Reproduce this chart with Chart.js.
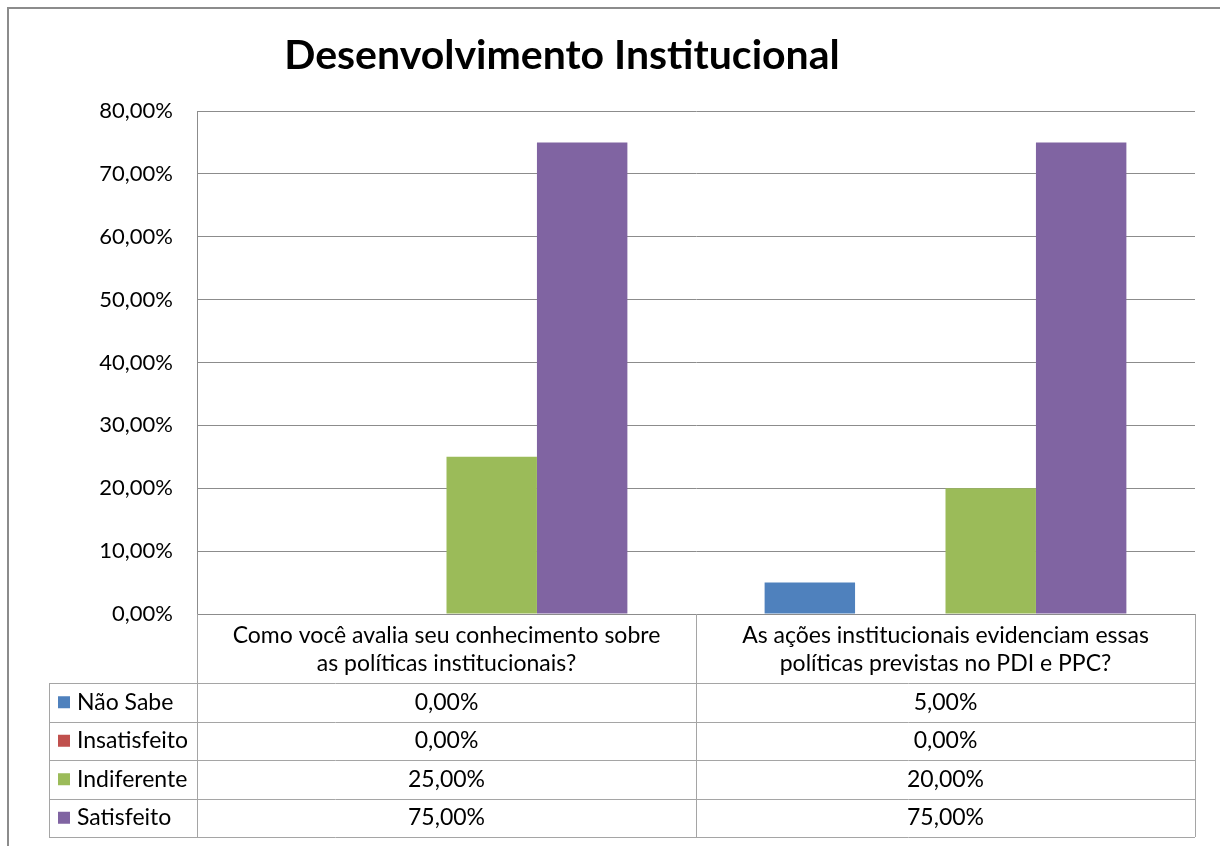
<!DOCTYPE html>
<html>
<head>
<meta charset="utf-8">
<script src="https://cdn.jsdelivr.net/npm/chart.js@4/dist/chart.umd.min.js"></script>
<style>
  html, body { margin: 0; padding: 0; background: #fff; }
  canvas { display: block; }
</style>
</head>
<body>
<canvas id="c" width="1220" height="846"></canvas>
<script>
// ── DATA ──────────────────────────────────────────────────────────────────────
const TITLE = 'Desenvolvimento Institucional';
const categories = [
  ['Como você avalia seu conhecimento sobre', 'as políticas institucionais?'],
  ['As ações institucionais evidenciam essas', 'políticas previstas no PDI e PPC?']
];
const seriesNames  = ['Não Sabe', 'Insatisfeito', 'Indiferente', 'Satisfeito'];
const seriesColors = ['#4F81BD', '#C0504D', '#9BBB59', '#8064A2'];
const naoSabe      = [0, 5];
const insatisfeito = [0, 0];
const indiferente  = [25, 20];
const satisfeito   = [75, 75];
const yMax = 80, yStep = 10;

const seriesValues = [naoSabe, insatisfeito, indiferente, satisfeito];
const FONT = 'Lato, "Open Sans", sans-serif';
const fmt = v => v.toFixed(2).replace('.', ',') + '%';

// ── PLUGINS: frame, title, data table ────────────────────────────────────────
const frame = {
  id: 'frame',
  beforeDraw(chart) {
    const ctx = chart.ctx;
    ctx.save();
    ctx.strokeStyle = '#8c8c8c';
    ctx.lineWidth = 2;
    ctx.beginPath();
    ctx.moveTo(8, 846); ctx.lineTo(8, 8); ctx.lineTo(1220, 8);
    ctx.stroke();
    ctx.restore();
  },
  afterDraw(chart) {
    const ctx = chart.ctx;
    ctx.save();
    ctx.fillStyle = '#000';
    ctx.font = 'bold 41px ' + FONT;
    ctx.textAlign = 'center';
    ctx.textBaseline = 'middle';
    ctx.fillText(TITLE, 562, 56);
    ctx.restore();
  }
};

const dataTable = {
  id: 'dataTable',
  afterDraw(chart) {
    const { ctx, chartArea: a, scales: { x } } = chart;
    const half = (a.right - a.left) / categories.length / 2;
    const headerH = 69, rowH = 38.5, keyLeft = 49;
    const top = a.bottom, rowsTop = top + headerH;
    const bottom = rowsTop + rowH * seriesNames.length;

    ctx.save();
    ctx.strokeStyle = '#a5a5a5';
    ctx.lineWidth = 1;
    ctx.beginPath();
    // vertical lines
    ctx.moveTo(a.left + 0.5, top); ctx.lineTo(a.left + 0.5, bottom);
    categories.forEach((_, i) => {
      const r = Math.round(x.getPixelForValue(i) + half) + 0.5;
      ctx.moveTo(r, top); ctx.lineTo(r, bottom);
    });
    ctx.moveTo(keyLeft + 0.5, rowsTop); ctx.lineTo(keyLeft + 0.5, bottom);
    // horizontal lines
    for (let r = 0; r <= seriesNames.length; r++) {
      const y = Math.round(rowsTop + r * rowH) + 0.5;
      ctx.moveTo(keyLeft, y); ctx.lineTo(a.right, y);
    }
    ctx.stroke();

    ctx.fillStyle = '#000';
    ctx.font = '23px ' + FONT;
    ctx.textBaseline = 'middle';
    ctx.textAlign = 'center';
    // category headers
    categories.forEach((lines, i) => {
      const cx = x.getPixelForValue(i);
      lines.forEach((t, j) => ctx.fillText(t, cx, top + 22 + j * 28));
    });
    // rows
    seriesNames.forEach((name, r) => {
      const cy = rowsTop + r * rowH + rowH / 2;
      ctx.fillStyle = seriesColors[r];
      ctx.fillRect(keyLeft + 9, cy - 6, 12, 12);
      ctx.fillStyle = '#000';
      ctx.textAlign = 'left';
      ctx.fillText(name, keyLeft + 28, cy);
      ctx.textAlign = 'center';
      seriesValues[r].forEach((v, i) => ctx.fillText(fmt(v), x.getPixelForValue(i), cy));
    });
    ctx.restore();
  }
};

// ── CHART ─────────────────────────────────────────────────────────────────────
new Chart(document.getElementById('c'), {
  type: 'bar',
  data: {
    labels: categories,
    datasets: seriesNames.map((n, i) => ({
      label: n,
      data: seriesValues[i],
      backgroundColor: seriesColors[i],
      borderWidth: 0,
      categoryPercentage: 0.725,
      barPercentage: 1
    }))
  },
  options: {
    responsive: false,
    animation: false,
    layout: { padding: { top: 111, right: 25, bottom: 232, left: 0 } },
    plugins: { legend: { display: false }, tooltip: { enabled: false } },
    scales: {
      x: { display: false },
      y: {
        min: 0, max: yMax,
        afterFit(s) { s.width = 197; },
        border: { display: true, color: '#8c8c8c' },
        grid: { color: '#8c8c8c', drawTicks: false },
        ticks: {
          stepSize: yStep, padding: 24, color: '#000',
          font: { family: FONT, size: 22 },
          callback: v => fmt(v)
        }
      }
    }
  },
  plugins: [frame, dataTable]
});
</script>
</body>
</html>
